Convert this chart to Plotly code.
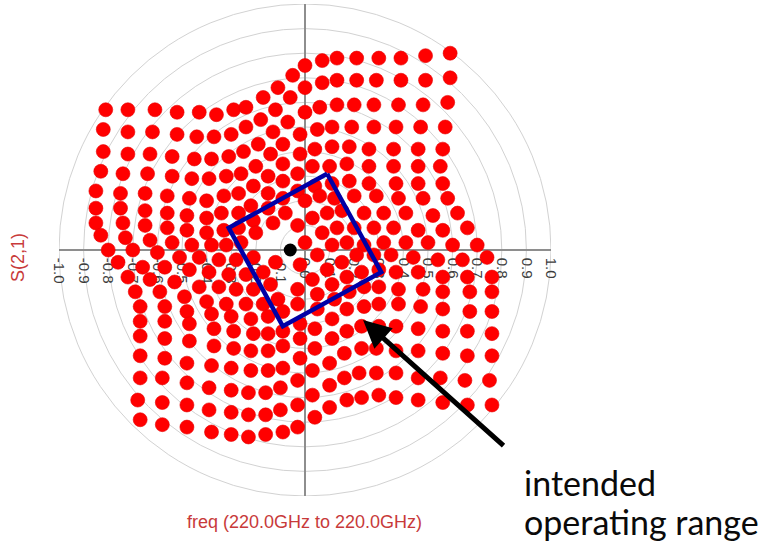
import plotly.graph_objects as go

# ---------------- S(2,1) states (real, imaginary) ----------------
# Upper-left block: rows from the top, each row left to right
ul_rows_re = [
    [-0.81, -0.72, -0.61, -0.52, -0.43, -0.36, -0.29, -0.24, -0.17, -0.11, -0.05],
    [-0.82, -0.72, -0.62, -0.52, -0.44, -0.37, -0.30, -0.24, -0.18, -0.12, -0.06],
    [-0.82, -0.72, -0.63, -0.54, -0.45, -0.38, -0.31, -0.25, -0.19, -0.13, -0.07],
    [-0.83, -0.74, -0.64, -0.54, -0.46, -0.39, -0.32, -0.26, -0.20, -0.14, -0.09],
    [-0.85, -0.75, -0.65, -0.56, -0.47, -0.40, -0.33, -0.27, -0.21, -0.15, -0.09],
    [-0.85, -0.75, -0.65, -0.56, -0.48, -0.40, -0.34, -0.27, -0.22, -0.15, -0.09],
    [-0.85, -0.74, -0.65, -0.56, -0.48, -0.40, -0.33, -0.27, -0.21, -0.15, -0.09],
    [-0.83, -0.73, -0.63, -0.54, -0.46, -0.38, -0.32, -0.26, -0.20, -0.13, -0.08],
]
ul_rows_im = [
    [0.57, 0.57, 0.57, 0.56, 0.56, 0.55, 0.57, 0.58, 0.62, 0.66, 0.71],
    [0.49, 0.48, 0.48, 0.47, 0.46, 0.46, 0.47, 0.50, 0.53, 0.57, 0.62],
    [0.40, 0.39, 0.39, 0.38, 0.37, 0.37, 0.38, 0.40, 0.43, 0.48, 0.52],
    [0.32, 0.31, 0.31, 0.30, 0.29, 0.29, 0.30, 0.31, 0.34, 0.39, 0.43],
    [0.24, 0.23, 0.23, 0.22, 0.21, 0.20, 0.22, 0.23, 0.26, 0.30, 0.35],
    [0.17, 0.17, 0.16, 0.15, 0.14, 0.13, 0.15, 0.15, 0.18, 0.23, 0.28],
    [0.11, 0.11, 0.10, 0.09, 0.08, 0.07, 0.08, 0.09, 0.12, 0.17, 0.21],
    [0.06, 0.05, 0.04, 0.03, 0.02, 0.02, 0.02, 0.03, 0.07, 0.11, 0.15],
]

# Upper-right block: columns from the axis outwards, each column top to bottom
ur_cols_re = [
    [0.00, 0.00, 0.00, -0.02, -0.02, -0.03, -0.03, 0.00, 0.03, 0.07, 0.11],
    [0.07, 0.07, 0.06, 0.05, 0.04, 0.03, 0.04, 0.06, 0.09, 0.13, 0.17],
    [0.13, 0.13, 0.13, 0.11, 0.11, 0.10, 0.11, 0.12, 0.15, 0.20, 0.24],
    [0.21, 0.21, 0.20, 0.19, 0.18, 0.17, 0.18, 0.20, 0.24, 0.28, 0.32],
    [0.30, 0.29, 0.28, 0.28, 0.26, 0.26, 0.26, 0.29, 0.32, 0.36, 0.41],
    [0.39, 0.39, 0.38, 0.37, 0.36, 0.36, 0.37, 0.38, 0.41, 0.46, 0.50],
    [0.49, 0.49, 0.48, 0.47, 0.46, 0.46, 0.46, 0.48, 0.52, 0.56, 0.60],
    [0.59, 0.59, 0.58, 0.57, 0.56, 0.55, 0.56, 0.58, 0.62, 0.66, 0.70],
]
ur_cols_im = [
    [0.75, 0.66, 0.56, 0.47, 0.39, 0.31, 0.24, 0.20, 0.13, 0.07, 0.02],
    [0.77, 0.68, 0.58, 0.49, 0.41, 0.34, 0.26, 0.22, 0.15, 0.09, 0.03],
    [0.78, 0.69, 0.59, 0.50, 0.42, 0.34, 0.27, 0.21, 0.16, 0.09, 0.02],
    [0.78, 0.69, 0.59, 0.50, 0.42, 0.35, 0.28, 0.22, 0.15, 0.09, 0.03],
    [0.78, 0.69, 0.59, 0.50, 0.41, 0.34, 0.27, 0.22, 0.15, 0.09, 0.03],
    [0.78, 0.69, 0.59, 0.50, 0.41, 0.34, 0.27, 0.21, 0.15, 0.08, 0.03],
    [0.79, 0.69, 0.59, 0.50, 0.41, 0.34, 0.27, 0.21, 0.14, 0.08, 0.02],
    [0.80, 0.70, 0.60, 0.50, 0.41, 0.34, 0.27, 0.21, 0.15, 0.09, 0.02],
]

# Lower-right block: rows from the axis downwards, each row right to left
lr_rows_re = [
    [0.74, 0.64, 0.54, 0.44, 0.35, 0.28, 0.21, 0.15, 0.09, 0.03, -0.03],
    [0.76, 0.66, 0.56, 0.46, 0.37, 0.30, 0.23, 0.17, 0.11, 0.05, -0.03],
    [0.76, 0.67, 0.56, 0.48, 0.38, 0.30, 0.24, 0.18, 0.12, 0.05, -0.02],
    [0.76, 0.67, 0.56, 0.47, 0.38, 0.30, 0.24, 0.17, 0.11, 0.04, -0.02],
    [0.76, 0.66, 0.56, 0.46, 0.37, 0.30, 0.23, 0.17, 0.11, 0.04, -0.02],
    [0.76, 0.66, 0.56, 0.46, 0.37, 0.29, 0.23, 0.16, 0.10, 0.03, -0.03],
    [0.75, 0.65, 0.55, 0.46, 0.37, 0.29, 0.22, 0.16, 0.10, 0.03, -0.03],
    [0.76, 0.66, 0.56, 0.46, 0.37, 0.30, 0.23, 0.17, 0.10, 0.04, -0.03],
]
lr_rows_im = [
    [-0.03, -0.04, -0.04, -0.03, -0.02, -0.02, -0.02, -0.05, -0.08, -0.12, -0.16],
    [-0.11, -0.11, -0.11, -0.09, -0.09, -0.08, -0.09, -0.11, -0.14, -0.18, -0.22],
    [-0.17, -0.17, -0.17, -0.16, -0.16, -0.15, -0.15, -0.17, -0.20, -0.24, -0.30],
    [-0.25, -0.25, -0.24, -0.23, -0.22, -0.22, -0.23, -0.24, -0.28, -0.32, -0.36],
    [-0.34, -0.33, -0.33, -0.32, -0.31, -0.31, -0.31, -0.33, -0.36, -0.40, -0.44],
    [-0.43, -0.43, -0.42, -0.41, -0.41, -0.40, -0.40, -0.42, -0.46, -0.49, -0.53],
    [-0.53, -0.53, -0.52, -0.52, -0.50, -0.50, -0.50, -0.52, -0.55, -0.59, -0.63],
    [-0.63, -0.63, -0.62, -0.61, -0.60, -0.59, -0.60, -0.61, -0.64, -0.68, -0.72],
]

# Lower-left block: columns from the left, each column top to bottom
ll_cols_re = [
    [-0.80, -0.76, -0.72, -0.69, -0.67, -0.67, -0.67, -0.67, -0.67, -0.68, -0.67],
    [-0.70, -0.66, -0.63, -0.59, -0.57, -0.57, -0.57, -0.57, -0.58, -0.58, -0.58],
    [-0.60, -0.57, -0.53, -0.49, -0.48, -0.47, -0.47, -0.48, -0.48, -0.48, -0.48],
    [-0.51, -0.47, -0.43, -0.40, -0.38, -0.37, -0.37, -0.38, -0.39, -0.39, -0.38],
    [-0.43, -0.39, -0.35, -0.32, -0.30, -0.29, -0.29, -0.30, -0.30, -0.30, -0.30],
    [-0.35, -0.31, -0.28, -0.24, -0.22, -0.21, -0.22, -0.22, -0.23, -0.23, -0.23],
    [-0.28, -0.24, -0.21, -0.17, -0.15, -0.15, -0.15, -0.15, -0.16, -0.16, -0.16],
    [-0.21, -0.17, -0.14, -0.11, -0.09, -0.09, -0.09, -0.09, -0.10, -0.10, -0.09],
]
ll_cols_im = [
    [0.00, -0.05, -0.11, -0.17, -0.23, -0.29, -0.35, -0.43, -0.52, -0.61, -0.69],
    [0.00, -0.07, -0.12, -0.17, -0.23, -0.29, -0.36, -0.44, -0.52, -0.62, -0.71],
    [-0.01, -0.07, -0.13, -0.19, -0.25, -0.30, -0.37, -0.46, -0.54, -0.63, -0.72],
    [-0.03, -0.08, -0.15, -0.21, -0.26, -0.32, -0.39, -0.47, -0.56, -0.65, -0.74],
    [-0.03, -0.09, -0.15, -0.22, -0.27, -0.33, -0.40, -0.48, -0.57, -0.66, -0.75],
    [-0.04, -0.10, -0.16, -0.22, -0.28, -0.34, -0.41, -0.49, -0.58, -0.67, -0.76],
    [-0.04, -0.10, -0.16, -0.22, -0.27, -0.34, -0.41, -0.49, -0.58, -0.67, -0.75],
    [-0.03, -0.09, -0.14, -0.20, -0.25, -0.33, -0.39, -0.48, -0.56, -0.65, -0.74],
]

# innermost states around the origin
core_re = [0.00, 0.05, -0.02, -0.03, -0.12]
core_im = [0.03, -0.02, -0.06, 0.10, -0.05]

# reference state and intended operating window (corners, closed)
ref_re, ref_im = [-0.06], [0.00]
window_re = [0.09, 0.31, -0.09, -0.31, 0.09]
window_im = [0.31, -0.09, -0.31, 0.09, 0.31]

# polar grid
ring_radii = [0.1, 0.2, 0.3, 0.4, 0.5, 0.6, 0.7, 0.8, 0.9, 1.0]
tick_vals = [-1.0, -0.9, -0.8, -0.7, -0.6, -0.5, -0.4, -0.3, -0.2, -0.1, 0.0,
             0.1, 0.2, 0.3, 0.4, 0.5, 0.6, 0.7, 0.8, 0.9, 1.0]
tick_text = ["-1.0", "-0.9", "-0.8", "-0.7", "-0.6", "-0.5", "-0.4", "-0.3", "-0.2", "-0.1", "0.0",
             "0.1", "0.2", "0.3", "0.4", "0.5", "0.6", "0.7", "0.8", "0.9", "1.0"]


def flatten(groups):
    return [v for g in groups for v in g]


pts_re = (flatten(ul_rows_re) + flatten(ur_cols_re) + flatten(lr_rows_re)
          + flatten(ll_cols_re) + core_re)
pts_im = (flatten(ul_rows_im) + flatten(ur_cols_im) + flatten(lr_rows_im)
          + flatten(ll_cols_im) + core_im)

fig = go.Figure()

fig.add_trace(go.Scatter(
    x=pts_re, y=pts_im, mode="markers",
    marker=dict(size=14, color="#ff0000", line=dict(width=0.6, color="#e60000")),
    hoverinfo="skip", showlegend=False,
))
fig.add_trace(go.Scatter(
    x=ref_re, y=ref_im, mode="markers",
    marker=dict(size=13, color="#000000"),
    hoverinfo="skip", showlegend=False,
))
fig.add_trace(go.Scatter(
    x=window_re, y=window_im, mode="lines",
    line=dict(color="#0000a6", width=4.5),
    hoverinfo="skip", showlegend=False,
))

# magnitude rings
for r in ring_radii:
    fig.add_shape(type="circle", xref="x", yref="y",
                  x0=-r, x1=r, y0=-r, y1=r,
                  line=dict(color="#d2d2d2", width=1), layer="below")

label_font = dict(family="Liberation Sans, Arial, sans-serif", size=18, color="#c83a3a")

# axis captions (paper coordinates, outside the plotting square)
fig.add_annotation(x=0.498, y=-0.053, xref="paper", yref="paper",
                   text="freq (220.0GHz to 220.0GHz)", showarrow=False,
                   font=label_font, xanchor="center", yanchor="middle")
fig.add_annotation(x=-0.082, y=0.485, xref="paper", yref="paper",
                   text="S(2,1)", showarrow=False, textangle=-90,
                   font=label_font, xanchor="center", yanchor="middle")

# callout
fig.add_annotation(x=0.236, y=-0.285, xref="x", yref="y",
                   ax=0.813, ay=-0.801, axref="x", ayref="y",
                   text="", showarrow=True, arrowhead=2, arrowsize=1.1,
                   arrowwidth=5, arrowcolor="#000000")
note_font = dict(family="Lato, sans-serif", size=34, color="#0a0a0a")
fig.add_annotation(x=0.941, y=0.028, xref="paper", yref="paper", text="intended",
                   showarrow=False, font=note_font, xanchor="left", yanchor="middle")
fig.add_annotation(x=0.941, y=-0.051, xref="paper", yref="paper", text="operating range",
                   showarrow=False, font=note_font, xanchor="left", yanchor="middle")

fig.update_xaxes(
    range=[-1, 1], anchor="free", position=0.5,
    showline=True, linecolor="#8e8e8e", linewidth=1.5,
    showgrid=False, zeroline=False, ticks="",
    tickmode="array", tickvals=tick_vals, ticktext=tick_text,
    tickangle=90, tickfont=dict(family="Liberation Sans, Arial, sans-serif", size=15, color="#3c3c3c"),
    ticklabelstandoff=4,
    layer="below traces", automargin=False, fixedrange=True,
)
fig.update_yaxes(
    range=[-1, 1], anchor="free", position=0.5,
    showline=True, linecolor="#8e8e8e", linewidth=1.5,
    showgrid=False, zeroline=False, showticklabels=False, ticks="",
    layer="below traces", automargin=False, fixedrange=True,
)

fig.update_layout(
    width=763, height=547,
    margin=dict(l=59, r=212, t=4, b=51),
    paper_bgcolor="#ffffff", plot_bgcolor="#ffffff",
    showlegend=False,
)

fig.write_html("out.html")
